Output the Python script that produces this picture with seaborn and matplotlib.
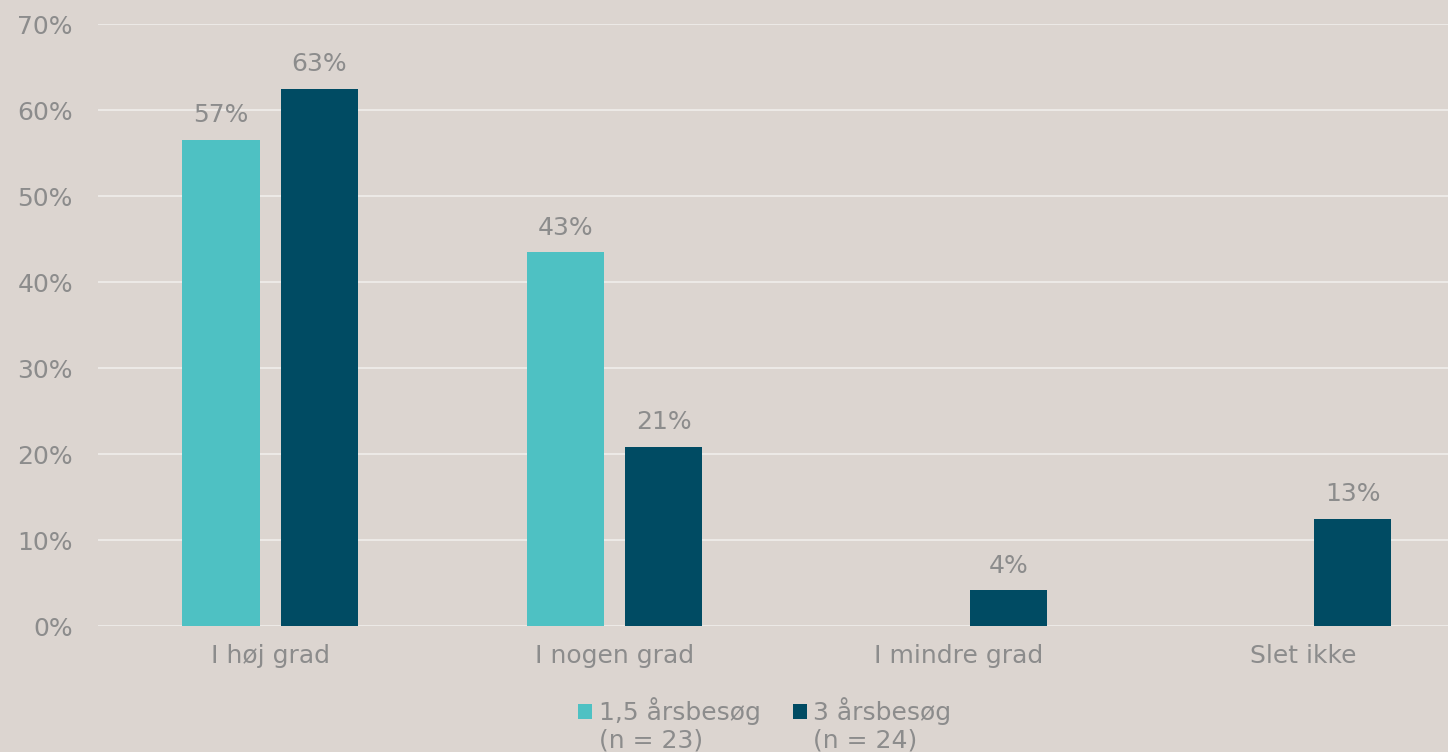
import matplotlib
matplotlib.use("Agg")
import matplotlib.pyplot as plt
import seaborn as sns
import pandas as pd
from matplotlib.ticker import FuncFormatter
from matplotlib.patches import Patch, Rectangle
from matplotlib.legend_handler import HandlerPatch

categories = ["I høj grad", "I nogen grad", "I mindre grad", "Slet ikke"]
series_names = ["1,5 årsbesøg\n(n = 23)", "3 årsbesøg\n(n = 24)"]
values_15 = [56.52, 43.48, 0.0, 0.0]
values_3 = [62.5, 20.83, 4.17, 12.5]
colors = ["#4EC1C3", "#004B63"]
bg = "#DCD5D0"
txt = "#8C8C8C"
FS = 18

df = pd.DataFrame({
    "cat": categories * 2,
    "serie": [series_names[0]] * 4 + [series_names[1]] * 4,
    "val": values_15 + values_3,
})

sns.set_theme(style="white")
plt.rcParams["font.family"] = ["DejaVu Sans"]

fig = plt.figure(figsize=(14.48, 7.52), dpi=100, facecolor=bg)
ax = fig.add_axes([98 / 1448, 1 - 626 / 752, 1 - 98 / 1448, (626 - 24) / 752])
ax.set_facecolor(bg)

sns.barplot(data=df, x="cat", y="val", hue="serie", order=categories,
            hue_order=series_names, palette=colors, width=0.572, gap=0.217,
            saturation=1, linewidth=0, ax=ax, legend=False)

ax.set_xlim(-0.5, 3.42)
ax.set_ylim(0, 70)
ax.set_yticks(range(0, 71, 10))
ax.yaxis.set_major_formatter(FuncFormatter(lambda v, p: f"{int(v)}%"))
ax.grid(axis="y", color="#ECE9E6", linewidth=1.5)
ax.set_axisbelow(True)
for s in ax.spines.values():
    s.set_visible(False)
ax.tick_params(axis="both", length=0, labelsize=FS, colors=txt)
ax.tick_params(axis="x", pad=13)
ax.tick_params(axis="y", pad=18)
ax.set_xlabel("")
ax.set_ylabel("")

for cont in ax.containers:
    for bar in cont:
        h = bar.get_height()
        if h > 0:
            ax.annotate(f"{int(h + 0.5)}%", (bar.get_x() + bar.get_width() / 2, h),
                        xytext=(0, 9), textcoords="offset points",
                        ha="center", va="bottom", fontsize=FS, color=txt)


class ShiftHandler(HandlerPatch):
    def create_artists(self, legend, orig_handle, xdescent, ydescent, width,
                       height, fontsize, trans):
        p = Rectangle(xy=(-xdescent, -ydescent + 0.55 * fontsize),
                      width=width, height=height)
        self.update_prop(p, orig_handle, legend)
        p.set_transform(trans)
        return [p]


handles = [Patch(facecolor=c, edgecolor="none") for c in colors]
leg = ax.legend(handles, series_names, loc="upper center",
                bbox_to_anchor=(0.494, -0.118), ncol=2, frameon=False,
                fontsize=FS, handlelength=0.56, handleheight=0.56,
                handletextpad=0.25, columnspacing=1.3, labelcolor=txt,
                borderaxespad=0, borderpad=0,
                handler_map={Patch: ShiftHandler()})

fig.savefig("out.png", dpi=100, facecolor=bg)
